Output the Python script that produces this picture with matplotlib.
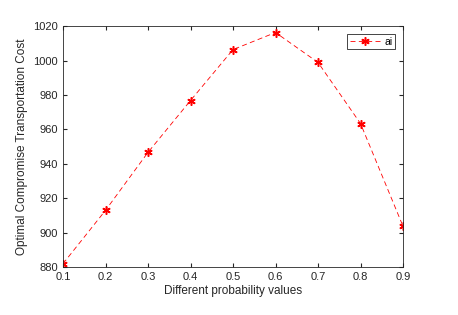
import matplotlib
matplotlib.use("Agg")
import matplotlib.pyplot as plt

x = [0.1, 0.2, 0.3, 0.4, 0.5, 0.6, 0.7, 0.8, 0.9]
cost = [882.0, 913.0, 946.7, 976.8, 1006.4, 1016.3, 998.9, 963.4, 903.7]
xticks = [0.1, 0.2, 0.3, 0.4, 0.5, 0.6, 0.7, 0.8, 0.9]
yticks = [880, 900, 920, 940, 960, 980, 1000, 1020]

plt.rcParams['font.family'] = ['Liberation Sans', 'DejaVu Sans']
fig = plt.figure(figsize=(4.58, 3.15), dpi=100)
ax = fig.add_axes([0.1376, 0.152, 0.7424, 0.765])
ax.plot(x, cost, linestyle=(0, (6, 4)), color='red', linewidth=0.6,
        marker=(6, 2, 0), markersize=6, markeredgewidth=1.1, label='ai')
ax.set_xlim(0.1, 0.9)
ax.set_ylim(880, 1020)
ax.set_xticks(xticks)
ax.set_xticklabels([f"{t:.1f}" for t in xticks])
ax.set_yticks(yticks)
ax.tick_params(direction='in', top=True, right=True, labelsize=8, colors='#262626', length=3, width=0.8)
for s in ax.spines.values():
    s.set_color('#262626')
    s.set_linewidth(0.6)
ax.set_xlabel('Different probability values', fontsize=8.5, color='#262626', labelpad=2)
ax.set_ylabel('Optimal Compromise Transportation Cost', fontsize=8.5, color='#262626', labelpad=4)
leg = ax.legend(loc='upper right', fontsize=7.5, fancybox=False, framealpha=1,
                edgecolor='#262626', handlelength=3.0, handletextpad=0.3,
                borderpad=0.25, borderaxespad=0,
                bbox_to_anchor=(0.976, 0.967))
leg.get_frame().set_linewidth(0.6)
fig.savefig('out.png', dpi=100)
